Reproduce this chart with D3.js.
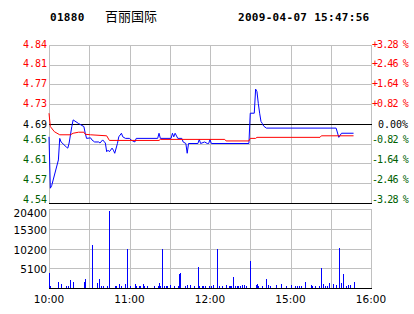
<!DOCTYPE html>
<html>
<head>
<meta charset="utf-8">
<script src="https://cdn.jsdelivr.net/npm/d3@7/dist/d3.min.js"></script>
<style>
body { margin: 0; background: #fff; }
svg { display: block; }
</style>
</head>
<body>
<svg id="chart" width="414" height="314"></svg>
<script>
let stockCode = "01880"
let stockName = "百丽国际"
let stampText = "2009-04-07 15:47:56"
let prevClose = 4.69
let priceTicks = ["4.84", "4.81", "4.77", "4.73", "4.69", "4.65", "4.61", "4.57", "4.54"]
let pctTicks = ["+3.28 %", "+2.46 %", "+1.64 %", "+0.82 %", "0.00%", "-0.82 %", "-1.64 %", "-2.46 %", "-3.28 %"]
let volTicks = [5100, 10200, 15300, 20400]
let timeTicks = ["10:00", "11:00", "12:00", "15:00", "16:00"]

// price line
let priceTimes = ["10:00", "10:01", "10:02", "10:07", "10:08", "10:09", "10:13", "10:14", "10:15", "10:17", "10:18", "10:22",
    "10:26", "10:27", "10:28", "10:31", "10:32", "10:34", "10:37", "10:38", "10:40", "10:42", "10:43", "10:44", "10:45",
    "10:47", "10:48", "10:49", "10:51", "10:52", "10:54", "10:55", "10:57", "11:00", "11:01", "11:04", "11:05", "11:21",
    "11:22", "11:23", "11:31", "11:32", "11:33", "11:34", "11:36", "11:39", "11:40", "11:42", "11:43", "11:44", "11:51",
    "11:52", "11:53", "11:56", "11:58", "11:59", "12:00", "12:01", "12:29", "14:30", "14:33", "14:34", "14:35", "14:36",
    "14:37", "14:38", "14:39", "14:40", "14:42", "15:34", "15:36", "15:37", "15:38", "15:47"]
let prices = [4.665, 4.565, 4.570, 4.620, 4.662, 4.655, 4.645, 4.643, 4.653, 4.685, 4.698, 4.691,
    4.685, 4.672, 4.662, 4.663, 4.659, 4.655, 4.655, 4.653, 4.659, 4.653, 4.636, 4.639, 4.636,
    4.643, 4.639, 4.633, 4.652, 4.665, 4.672, 4.665, 4.662, 4.662, 4.659, 4.655, 4.662, 4.662,
    4.672, 4.662, 4.662, 4.672, 4.665, 4.672, 4.662, 4.662, 4.655, 4.652, 4.633, 4.652, 4.652,
    4.660, 4.652, 4.655, 4.652, 4.652, 4.660, 4.652, 4.652, 4.711, 4.711, 4.758, 4.753, 4.730,
    4.711, 4.695, 4.691, 4.686, 4.682, 4.682, 4.664, 4.668, 4.672, 4.672]

// average price line
let avgTimes = ["10:00", "10:01", "10:04", "10:08", "10:16", "10:18", "10:22", "10:26", "10:27", "10:31", "10:43", "10:45",
    "11:22", "11:23", "12:11", "12:12", "12:29", "14:30", "14:34", "14:35", "15:22", "15:23", "15:47"]
let avgPrices = [4.711, 4.685, 4.675, 4.669, 4.669, 4.672, 4.674, 4.674, 4.670, 4.669, 4.667, 4.658,
    4.658, 4.660, 4.660, 4.657, 4.657, 4.662, 4.662, 4.664, 4.664, 4.667, 4.667]

// volume bars
let volTimes = ["10:00", "10:01", "10:07", "10:09", "10:13", "10:14", "10:16", "10:18", "10:26", "10:27", "10:32", "10:36",
    "10:37", "10:39", "10:40", "10:43", "10:45", "10:49", "10:50", "10:52", "10:54", "10:57", "10:58", "11:00", "11:04",
    "11:05", "11:07", "11:08", "11:10", "11:11", "11:13", "11:18", "11:21", "11:22", "11:23", "11:24", "11:26", "11:27",
    "11:28", "11:30", "11:33", "11:36", "11:37", "11:38", "11:41", "11:43", "11:45", "11:48", "11:51", "11:52", "11:54",
    "11:55", "11:56", "11:59", "12:01", "12:02", "12:05", "12:07", "12:09", "12:12", "12:14", "12:15", "12:16", "12:17",
    "12:19", "12:20", "12:21", "12:22", "12:24", "12:25", "12:27", "14:30", "14:34", "14:35", "14:36", "14:39", "14:42",
    "14:43", "14:45", "14:49", "14:53", "14:57", "15:00", "15:03", "15:05", "15:06", "15:08", "15:11", "15:15", "15:16",
    "15:18", "15:21", "15:23", "15:24", "15:26", "15:27", "15:29", "15:32", "15:34", "15:36", "15:38", "15:39", "15:41",
    "15:43", "15:44", "15:47"]
let volumes = [3950, 500, 1630, 1030, 500, 500, 2070, 1630, 1630, 2320, 11100, 1200,
    2320, 500, 500, 500, 19880, 500, 500, 1030, 500, 1030, 10070, 400, 1030,
    500, 500, 500, 1030, 500, 500, 500, 500, 1370, 500, 10070, 500, 500,
    500, 700, 400, 500, 3620, 3950, 500, 700, 700, 500, 5340, 500, 500,
    500, 500, 500, 500, 700, 10070, 500, 500, 700, 500, 500, 500, 2760,
    500, 500, 500, 500, 700, 700, 500, 6970, 700, 1030, 500, 500, 2320,
    700, 500, 700, 1030, 500, 700, 500, 500, 500, 500, 1630, 700, 500,
    500, 500, 5170, 1030, 500, 500, 1370, 1030, 700, 10330, 1200, 3620, 500,
    700, 700, 1630]

let red = "#ff0000", green = "#006000", grid = "#c0c0c0", blue = "#0000ff"
let monoFont = "'DejaVu Sans Mono', monospace"
let sansFont = "'DejaVu Sans', sans-serif"

// trading minutes: 10:00-12:30 then 14:30-16:00
function toMinute(t) {
    let [h, m] = t.split(":").map(Number)
    let mins = h * 60 + m
    return mins <= 750 ? mins - 600 : mins - 870 + 150
}
function crisp(v) { return Math.round(v) + 0.5 }

let left = 49, right = 371
let mainTop = 45, mainBottom = 203
let volTop = 209, volBottom = 288

let span = prevClose * 0.0328
let x = d3.scaleLinear().domain([0, 240]).range([left, right])
let y = d3.scaleLinear().domain([prevClose - span, prevClose + span]).range([mainBottom, mainTop])
let yv = d3.scaleLinear().domain([0, 20400]).range([volBottom, volTop])

let svg = d3.select("#chart")

// header
svg.append("text").attr("x", 50).attr("y", 21).text(stockCode)
    .style("font-family", monoFont).style("font-weight", "bold").style("font-size", "11px").style("letter-spacing", "0.3px")
svg.append("text").attr("x", 105).attr("y", 21).text(stockName)
    .style("font-family", "'Noto Sans CJK SC', sans-serif").style("font-size", "13px")
svg.append("text").attr("x", 238).attr("y", 21).text(stampText)
    .style("font-family", monoFont).style("font-weight", "bold").style("font-size", "11px").style("letter-spacing", "0.3px")

// main panel grid
let gridMinutes = d3.range(0, 241, 30)
let levelValues = d3.range(9).map(i => prevClose + span - i * span / 4)
let main = svg.append("g").attr("shape-rendering", "crispEdges")

main.selectAll(".vgrid").data(gridMinutes).enter().append("line")
    .attr("x1", d => crisp(x(d))).attr("x2", d => crisp(x(d)))
    .attr("y1", mainTop).attr("y2", mainBottom)
    .attr("stroke", grid)

main.selectAll(".hgrid").data(levelValues).enter().append("line")
    .attr("x1", left).attr("x2", right + 1)
    .attr("y1", d => crisp(y(d))).attr("y2", d => crisp(y(d)))
    .attr("stroke", (d, i) => (i == 4 || i == 8) ? "#000" : grid)

function labelColor(i) { return i < 4 ? red : (i == 4 ? "#000" : green) }
function labelShift(i) { return i < 4 ? -1 : (i == 4 ? 0.5 : -4) }

main.selectAll(".pl").data(priceTicks).enter().append("text")
    .attr("x", 47).attr("y", (d, i) => y(levelValues[i]) + labelShift(i))
    .attr("text-anchor", "end").attr("dominant-baseline", "central")
    .style("font-family", monoFont).style("font-size", "10px")
    .style("fill", (d, i) => labelColor(i))
    .text(d => d)

main.selectAll(".pr").data(pctTicks).enter().append("text")
    .attr("x", (d, i) => i == 4 ? 378 : 372).attr("y", (d, i) => y(levelValues[i]) + labelShift(i))
    .attr("dominant-baseline", "central")
    .style("font-family", monoFont).style("font-size", "10px")
    .style("letter-spacing", (d, i) => i == 4 ? "0px" : "-0.9px")
    .style("fill", (d, i) => labelColor(i))
    .text(d => d)

// price and average lines
let priceLine = d3.line().x(d => x(toMinute(d[0]))).y(d => y(d[1]))
let lines = svg.append("g")
lines.append("path").datum(priceTimes.map((t, i) => [t, prices[i]]))
    .attr("d", priceLine).attr("fill", "none").attr("stroke", blue).attr("stroke-width", 1)
lines.append("path").datum(avgTimes.map((t, i) => [t, avgPrices[i]]))
    .attr("d", priceLine).attr("fill", "none").attr("stroke", red).attr("stroke-width", 1)

// volume panel
let vol = svg.append("g").attr("shape-rendering", "crispEdges")
vol.selectAll(".vg").data(gridMinutes).enter().append("line")
    .attr("x1", d => crisp(x(d))).attr("x2", d => crisp(x(d)))
    .attr("y1", volTop).attr("y2", volBottom)
    .attr("stroke", grid)
vol.selectAll(".vh").data(volTicks).enter().append("line")
    .attr("x1", left).attr("x2", right + 1)
    .attr("y1", d => crisp(yv(d))).attr("y2", d => crisp(yv(d)))
    .attr("stroke", grid)
vol.selectAll(".vl").data(volTicks).enter().append("text")
    .attr("x", 47).attr("y", d => yv(d) + (d == 20400 ? 4 : 1))
    .attr("text-anchor", "end").attr("dominant-baseline", "central")
    .style("font-family", sansFont).style("font-size", "10.5px")
    .text(d => d)

vol.selectAll(".bar").data(volTimes).enter().append("rect")
    .attr("x", d => Math.round(x(toMinute(d))))
    .attr("y", (d, i) => Math.round(yv(volumes[i])))
    .attr("width", 1)
    .attr("height", (d, i) => volBottom - Math.round(yv(volumes[i])))
    .attr("fill", blue)

vol.append("line").attr("x1", left).attr("x2", right + 1)
    .attr("y1", crisp(volBottom)).attr("y2", crisp(volBottom)).attr("stroke", "#000")

vol.selectAll(".tl").data(timeTicks).enter().append("text")
    .attr("x", d => x(toMinute(d))).attr("y", 303)
    .attr("text-anchor", "middle")
    .style("font-family", sansFont).style("font-size", "10.5px")
    .text(d => d)
</script>
</body>
</html>
